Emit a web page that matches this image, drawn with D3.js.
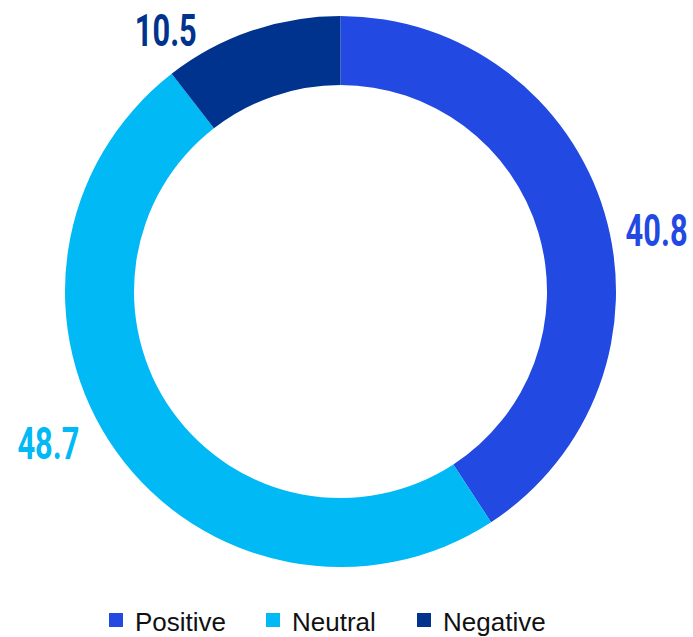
<!DOCTYPE html>
<html><head><meta charset="utf-8">
<script src="https://cdn.jsdelivr.net/npm/d3@7/dist/d3.min.js"></script>
<style>body{margin:0;background:#fff}svg{display:block}</style>
</head><body>
<svg id="c" width="693" height="637"></svg>
<script>
const categories = ["Positive", "Neutral", "Negative"];
const values = [40.8, 48.7, 10.5];
const colors = ["#2249E1", "#00B9F5", "#00338D"];
// label placement (angle in degrees clockwise from top, radius in px) – layout only
const labelAngle = [79, 242.6, 326.2];
const labelRadius = [322, 329, 314];

const svg = d3.select("#c");
const cx = 340.5, cy = 291.5, rOut = 275.5, rIn = 206.5;
const g = svg.append("g").attr("transform", `translate(${cx},${cy})`);
const data = categories.map((c, i) => ({cat: c, value: values[i], color: colors[i], i}));
const pie = d3.pie().value(d => d.value).sort(null);
const arc = d3.arc().innerRadius(rIn).outerRadius(rOut);
g.selectAll("path").data(pie(data)).join("path")
  .attr("d", arc).attr("fill", d => d.data.color);

g.selectAll("text.lbl").data(data).join("text").attr("class","lbl")
  .attr("transform", d => {
    const a = labelAngle[d.i] * Math.PI / 180, r = labelRadius[d.i];
    return `translate(${r*Math.sin(a)},${-r*Math.cos(a)}) scale(0.7,1)`;
  })
  .attr("text-anchor", "middle").attr("dy", "0.36em")
  .attr("font-family", "Roboto, sans-serif").attr("font-weight", 700)
  .attr("font-size", 44).attr("fill", d => d.color)
  .text(d => d.value.toFixed(1));

// legend
const legX = [109, 266, 417];
const leg = svg.append("g");
const items = leg.selectAll("g").data(data).join("g")
  .attr("transform", d => `translate(${legX[d.i]},613)`);
items.append("rect").attr("width", 14).attr("height", 14).attr("fill", d => d.color);
items.append("text").attr("x", 26).attr("y", 17.5)
  .attr("font-family", "'Liberation Sans', Arial, sans-serif").attr("font-size", 26)
  .attr("fill", "#111").text(d => d.cat);
</script>
</body></html>
